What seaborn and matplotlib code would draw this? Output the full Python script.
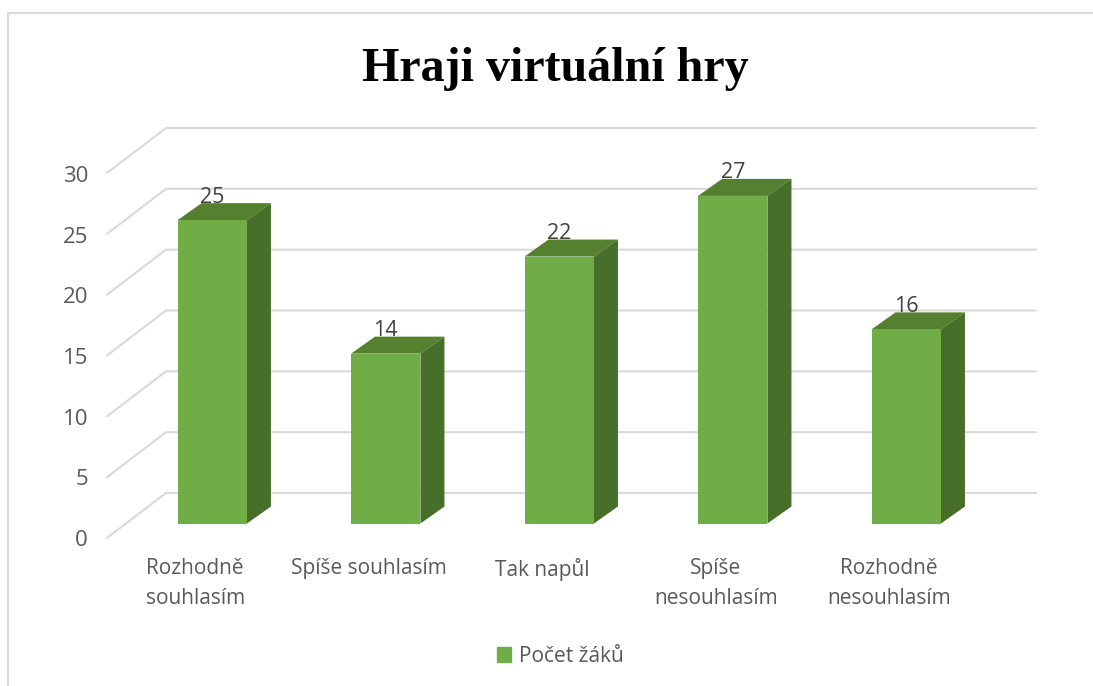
import pandas as pd
import seaborn as sns
import matplotlib.pyplot as plt
from matplotlib.lines import Line2D
from matplotlib.transforms import ScaledTranslation

categories = ['Rozhodně\nsouhlasím', 'Spíše souhlasím', 'Tak napůl', 'Spíše\nnesouhlasím', 'Rozhodně\nnesouhlasím']
pocet = [25, 14, 22, 27, 16]
y_ticks = [0, 5, 10, 15, 20, 25, 30]
title = 'Hraji virtuální hry'
series_name = 'Počet žáků'

W, H = 1093, 686
GREEN, TOP, SIDE = '#70ad47', '#54802f', '#476f2a'
GRID, TXT = '#d9d9d9', '#595959'

sns.set_theme(style='white')
plt.rcParams['font.family'] = ['Open Sans', 'DejaVu Sans']

fig = plt.figure(figsize=(W / 100, H / 100), dpi=100)
# front plane of the bars, everything else hangs off this
left, right, base, top = 125.5, 993, 523.5, 159.5
ax = fig.add_axes([left / W, 1 - base / H, (right - left) / W, (base - top) / H])

df = pd.DataFrame({'odpoved': categories, 'pocet': pocet})
sns.barplot(data=df, x='odpoved', y='pocet', color=GREEN, saturation=1, width=0.4,
            linewidth=0, edgecolor='none', label=series_name, legend=False, ax=ax, zorder=3)
ax.set_xlim(-0.5, len(categories) - 0.5)
ax.set_ylim(0, 30)
ax.set_xlabel('')
ax.set_ylabel('')
ax.patch.set_visible(False)
sns.despine(ax=ax, left=True, bottom=True)

# pixel sizes to data units
ux = (right - left) / len(categories)
uy = (base - top) / 30
dx, dy = 24 / ux, 17 / uy

# walls: back gridlines and the diagonal floor/side lines
# back wall is a touch taller than the bar plane (perspective)
wall = 365 / (base - top)
back_l, back_r = -0.5 + (166 - left) / ux, -0.5 + (1036 - left) / ux
front_l = -0.5 + (107 - left) / ux
back_up, front_down = 30.5 / uy, -14.5 / uy
for t in y_ticks:
    ax.plot([front_l, back_l, back_r], [t * wall + front_down, t * wall + back_up, t * wall + back_up],
            color=GRID, lw=1.5, clip_on=False, zorder=1, solid_joinstyle='miter')

# 3d faces from the bars seaborn made
for bar in ax.containers[0]:
    x0, x1 = bar.get_x(), bar.get_x() + bar.get_width()
    h = bar.get_height()
    ax.fill([x0, x0 + dx, x1 + dx, x1], [h, h + dy, h + dy, h], color=TOP, lw=0, zorder=2.5, clip_on=False)
    ax.fill([x1, x1 + dx, x1 + dx, x1], [0, dy, h + dy, h], color=SIDE, lw=0, zorder=2.5, clip_on=False)

ax.bar_label(ax.containers[0], padding=9, fontsize=15.5, color='#404040', zorder=5)

ax.set_yticks(y_ticks)
ax.tick_params(axis='y', length=0, labelsize=16, labelcolor=TXT, pad=27)
ax.tick_params(axis='x', length=0, labelsize=15, labelcolor=TXT, pad=25)
for lab in ax.get_yticklabels():
    lab.set_transform(lab.get_transform() + ScaledTranslation(0, -14.5 / 100, fig.dpi_scale_trans))
for lab in ax.get_xticklabels():
    lab.set_transform(lab.get_transform() + ScaledTranslation(-17 / 100, 0, fig.dpi_scale_trans))
    lab.set_linespacing(1.55)

fig.text(555 / W, 1 - 81 / H, title, ha='center', va='baseline', fontsize=34.6, fontweight='bold',
         family='Liberation Serif', color='black')

handles = [plt.Rectangle((0, 0), 1, 1, color=GREEN)]
ax.legend(handles, [series_name], loc='center', bbox_to_anchor=(560.5 / W, 1 - 656 / H),
          bbox_transform=fig.transFigure, frameon=False, fontsize=15, labelcolor=TXT,
          handlelength=0.65, handleheight=0.7, handletextpad=0.4)

# chart area border
fig.add_artist(Line2D([7.5 / W, 7.5 / W, 1], [0, 1 - 13 / H, 1 - 13 / H], color=GRID, lw=1.5))

fig.savefig('out.png', dpi=100)
